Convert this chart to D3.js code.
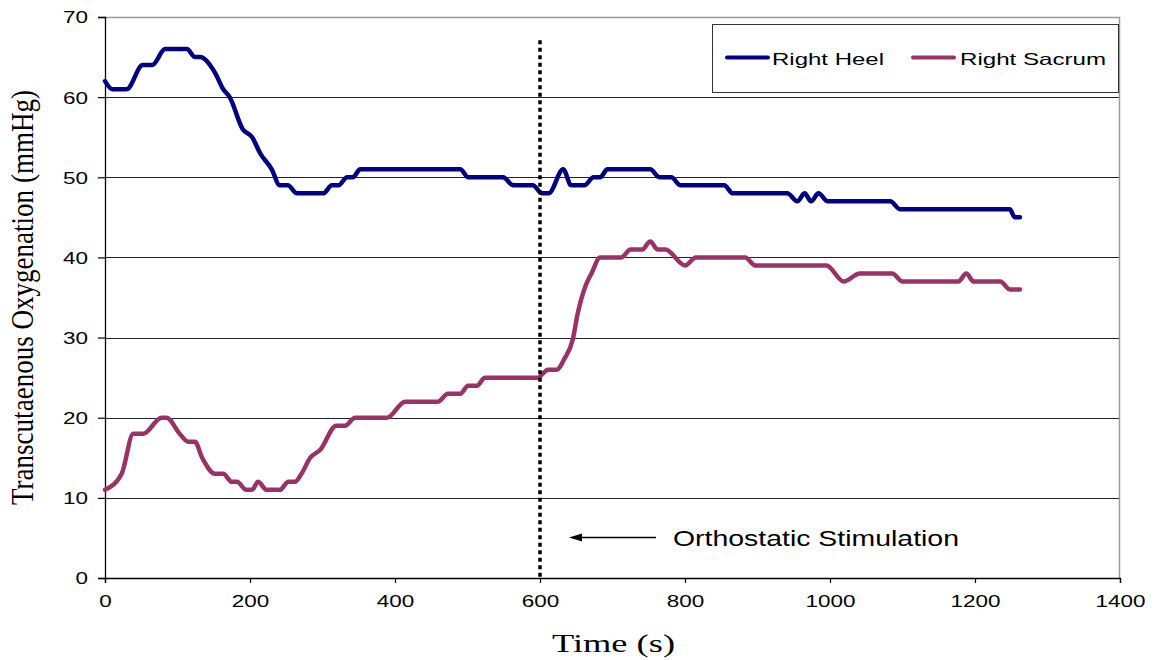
<!DOCTYPE html>
<html>
<head>
<meta charset="utf-8">
<script src="https://cdn.jsdelivr.net/npm/d3@7"></script>
<style>
  body { margin: 0; background: #fff; }
  svg { display: block; }
  .sans { font-family: "Liberation Sans", Arial, sans-serif; }
  .serif { font-family: "Liberation Serif", "Times New Roman", serif; }
</style>
</head>
<body>
<div id="chart"></div>
<script>
// Right Heel readings
const heelTime  = [0, 10, 30, 52, 65, 83, 113, 124, 131, 152, 163, 172, 190, 203, 214, 230, 241, 252, 265, 301,
                   313, 322, 334, 342, 352, 490, 501, 549, 563, 590, 603, 612, 632, 643, 661, 674, 683, 693, 752, 765,
                   781, 794, 854, 866, 941, 955, 965, 974, 984, 997, 1083, 1097, 1248, 1255, 1262];
const heelValue = [62, 61, 61, 64, 64, 66, 66, 65, 65, 63, 61, 60, 56, 55, 53, 51, 49, 49, 48, 48,
                   49, 49, 50, 50, 51, 51, 50, 50, 49, 49, 48, 48, 51, 49, 49, 50, 50, 51, 51, 50,
                   50, 49, 49, 48, 48, 47, 48, 47, 48, 47, 47, 46, 46, 45, 45];

// Right Sacrum readings
const sacrumTime  = [0, 23, 39, 53, 78, 85, 103, 115, 124, 134, 152, 163, 175, 182, 195, 203, 211, 223, 241, 253,
                     262, 271, 283, 297, 319, 331, 345, 389, 414, 459, 473, 490, 501, 513, 524, 597, 611, 623, 634, 645,
                     652, 663, 671, 683, 712, 725, 741, 752, 762, 773, 800, 815, 883, 897, 995, 1019, 1041, 1086, 1100, 1177,
                     1188, 1198, 1235, 1248, 1262];
const sacrumValue = [11, 13, 18, 18, 20, 20, 18, 17, 17, 15, 13, 13, 12, 12, 11, 11, 12, 11, 11, 12,
                     12, 13, 15, 16, 19, 19, 20, 20, 22, 22, 23, 23, 24, 24, 25, 25, 26, 26, 27.4, 29.7,
                     33, 36.5, 38, 40, 40, 41, 41, 42, 41, 41, 39, 40, 40, 39, 39, 37, 38, 38, 37, 37,
                     38, 37, 37, 36, 36];

const seriesNames = ["Right Heel", "Right Sacrum"];
const xTicks = [0, 200, 400, 600, 800, 1000, 1200, 1400];
const yTicks = [0, 10, 20, 30, 40, 50, 60, 70];
const stimulationTime = 600;

const margin = { top: 17, right: 34, bottom: 82, left: 105 };
const W = 1154, H = 660;
const width = W - margin.left - margin.right;
const height = H - margin.top - margin.bottom;

const svg = d3.select("#chart").append("svg")
    .attr("width", W)
    .attr("height", H);

const g = svg.append("g")
    .attr("transform", "translate(" + margin.left + "," + margin.top + ")");

const x = d3.scaleLinear().domain([0, 1400]).range([0, width]);
const y = d3.scaleLinear().domain([0, 70]).range([height, 0]);

// the original picture is widened horizontally, so text gets stretched too
const digitW = 12.5;

// gridlines
g.append("g")
    .selectAll("line")
    .data(yTicks.filter(d => d > 0 && d < 70))
    .enter().append("line")
    .attr("x1", 0).attr("x2", width)
    .attr("y1", d => Math.round(y(d)) + 0.5).attr("y2", d => Math.round(y(d)) + 0.5)
    .attr("stroke", "#222").attr("stroke-width", 1);

// plot border top / right
g.append("line").attr("x1", 0).attr("x2", width).attr("y1", 0.5).attr("y2", 0.5)
    .attr("stroke", "#999").attr("stroke-width", 1.5);
g.append("line").attr("x1", width - 0.5).attr("x2", width - 0.5).attr("y1", 0).attr("y2", height)
    .attr("stroke", "#999").attr("stroke-width", 1.5);

// axes
const xAxis = g.append("g")
    .attr("transform", "translate(0," + height + ")")
    .call(d3.axisBottom(x).tickValues(xTicks).tickFormat(d3.format("d")).tickSize(5).tickPadding(12));
const yAxis = g.append("g")
    .call(d3.axisLeft(y).tickValues(yTicks).tickFormat(d3.format("d")).tickSize(7).tickPadding(10));

[xAxis, yAxis].forEach(a => {
    a.select(".domain").attr("stroke", "#000").attr("stroke-width", 1.3);
    a.selectAll(".tick line").attr("stroke", "#000").attr("stroke-width", 1.2);
    a.selectAll(".tick text")
        .attr("class", "sans")
        .attr("font-size", 16.5)
        .attr("fill", "#000")
        .attr("lengthAdjust", "spacingAndGlyphs")
        .attr("textLength", d => String(d).length * digitW);
});
yAxis.selectAll(".tick text").attr("dy", "0.36em");
xAxis.selectAll(".tick text").attr("dy", "0.71em");

// lines
const line = d3.line()
    .x(d => x(d[0]))
    .y(d => y(d[1]))
    .curve(d3.curveMonotoneX);

const heel = heelTime.map((t, i) => [t, heelValue[i]]);
const sacrum = sacrumTime.map((t, i) => [t, sacrumValue[i]]);
const colors = ["#000080", "#993366"];

g.append("path").datum(heel)
    .attr("d", line).attr("fill", "none")
    .attr("stroke", colors[0]).attr("stroke-width", 4.5)
    .attr("stroke-linejoin", "round").attr("stroke-linecap", "round");

g.append("path").datum(sacrum)
    .attr("d", line).attr("fill", "none")
    .attr("stroke", colors[1]).attr("stroke-width", 4.5)
    .attr("stroke-linejoin", "round").attr("stroke-linecap", "round");

// stimulation marker
g.append("line")
    .attr("x1", x(stimulationTime)).attr("x2", x(stimulationTime))
    .attr("y1", y(67.1)).attr("y2", height)
    .attr("stroke", "#000").attr("stroke-width", 3.5)
    .attr("stroke-dasharray", "4,3.5");

// arrow pointing at the marker
const ay = Math.round(y(5.1)) + 0.5;
const ax0 = x(640), ax1 = x(760);
g.append("line")
    .attr("x1", ax0 + 8).attr("x2", ax1)
    .attr("y1", ay).attr("y2", ay)
    .attr("stroke", "#000").attr("stroke-width", 1.3);
g.append("path")
    .attr("d", "M" + ax0 + "," + ay + " L" + (ax0 + 13) + "," + (ay - 4) + " L" + (ax0 + 13) + "," + (ay + 4) + " Z")
    .attr("fill", "#000");

g.append("text")
    .attr("class", "sans")
    .attr("x", 568).attr("y", 529)
    .attr("font-size", 22)
    .attr("textLength", 286).attr("lengthAdjust", "spacingAndGlyphs")
    .text("Orthostatic Stimulation");

// legend
const legend = svg.append("g");
legend.append("rect")
    .attr("x", 712.5).attr("y", 24.5).attr("width", 406).attr("height", 68)
    .attr("fill", "#fff").attr("stroke", "#333").attr("stroke-width", 1);

const legendItems = [
    { name: seriesNames[0], color: colors[0], x0: 727, tx: 772, tw: 112 },
    { name: seriesNames[1], color: colors[1], x0: 913, tx: 960, tw: 146 }
];
legendItems.forEach(d => {
    legend.append("line")
        .attr("x1", d.x0).attr("x2", d.x0 + 41)
        .attr("y1", 57.5).attr("y2", 57.5)
        .attr("stroke", d.color).attr("stroke-width", 4)
        .attr("stroke-linecap", "round");
    legend.append("text")
        .attr("class", "sans")
        .attr("x", d.tx).attr("y", 65)
        .attr("font-size", 16.5)
        .attr("textLength", d.tw).attr("lengthAdjust", "spacingAndGlyphs")
        .text(d.name);
});

// axis titles
svg.append("text")
    .attr("class", "serif")
    .attr("x", 552).attr("y", 652)
    .attr("font-size", 25.5)
    .attr("textLength", 123).attr("lengthAdjust", "spacingAndGlyphs")
    .text("Time (s)");

svg.append("text")
    .attr("class", "serif")
    .attr("transform", "translate(33,297.5) scale(1.27,1) rotate(-90)")
    .attr("text-anchor", "middle")
    .attr("font-size", 25)
    .attr("textLength", 415).attr("lengthAdjust", "spacingAndGlyphs")
    .text("Transcutaenous Oxygenation (mmHg)");
</script>
</body>
</html>
